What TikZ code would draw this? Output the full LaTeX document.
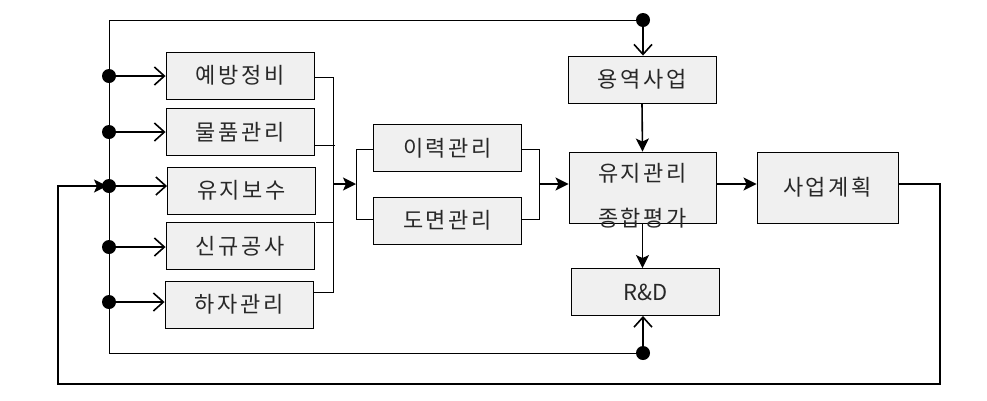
\documentclass[tikz,border=0pt]{standalone}
\usepackage{fontspec}
\newfontfamily\krfont[LetterSpace=12]{Noto Sans CJK KR}
\newfontfamily\krplain{Noto Sans CJK KR}
\usetikzlibrary{arrows.meta,calc}
\definecolor{boxgray}{RGB}{240,240,240}
\definecolor{txtgray}{RGB}{40,40,40}

\begin{document}
\begin{tikzpicture}[x=1pt, y=-1pt,
  box/.style={draw, line width=0.9pt, fill=boxgray, minimum width=148pt, minimum height=47pt,
    inner sep=0pt, text=txtgray, font={\krfont\fontsize{22pt}{26pt}\selectfont}},
  dot/.style={circle, fill, inner sep=0pt, minimum size=14pt},
  bus/.style={line width=0.9pt},
  feed/.style={-{Straight Barb[length=10pt,width=18pt]}, line width=1.6pt},
  flow/.style={-{Stealth[length=13pt,width=13pt,inset=3pt]}, line width=1.6pt},
  ret/.style={-{Stealth[length=13pt,width=13pt,inset=3pt]}, line width=1.4pt}]
  \useasboundingbox (0,0) rectangle (987,400);

  % 왼쪽 작업 상자
  \node[box] (yebang) at (240,75.5) {예방정비};
  \node[box] (mulpum) at (240,132) {물품관리};
  \node[box] (yujibosu) at (241.5,190.5) {유지보수};
  \node[box] (singyu) at (240,246) {신규공사};
  \node[box] (haja) at (239,304.5) {하자관리};

  % 가운데 상자
  \node[box] (iryeok) at (447.5,148) {이력관리};
  \node[box] (domyeon) at (447.5,220.5) {도면관리};

  % 오른쪽 상자
  \node[box] (yongyeok) at (642,79.5) {용역사업};
  \node[box, minimum width=147pt, minimum height=71pt] (jonghap) at (642.5,187.5) {};
  \node[font={\krfont\fontsize{22pt}{26pt}\selectfont}, text=txtgray, align=center, inner sep=0pt]
    (jonghaptxt) at (642.5,195.5) {유지관리\\[19pt]종합평가};
  \node[box, font={\krplain\fontsize{22pt}{26pt}\selectfont}] (rnd) at (645.5,292) {R\&D};
  \node[box, minimum width=141pt, minimum height=71pt] (saeop) at (827.5,187.5) {사업계획};

  % 분기점
  \node[dot] (d1) at (109,76) {};
  \node[dot] (d2) at (109,132) {};
  \node[dot] (d3) at (109,186) {};
  \node[dot] (d4) at (109,247) {};
  \node[dot] (d5) at (109,302) {};
  \node[dot] (dt) at (643,20) {};
  \node[dot] (db) at (643,353) {};

  \coordinate (lt) at (109,20);
  \coordinate (lb) at (109,353);
  \coordinate (ja) at (333,77);
  \coordinate (jb) at (333,292);
  \coordinate (jm) at (333,184);
  \coordinate (il1) at (356,149);
  \coordinate (il2) at (356,219);
  \coordinate (im) at (356,184);
  \coordinate (ir1) at (539,149);
  \coordinate (ir2) at (539,219);
  \coordinate (rm) at (539,184);
  \coordinate (lr) at (940,384);
  \coordinate (ll) at (58,384);

  % 공통 버스
  \draw[bus] (dt.center) -- (lt) -- (lb) -- (db.center);
  \foreach \d/\b in {d1/yebang, d2/mulpum, d3/yujibosu, d4/singyu, d5/haja}
    \draw[feed] (\d.center) -- (\b.west |- \d);
  \draw[feed] (dt.center) -- (dt |- yongyeok.north);
  \draw[feed] (db.center) -- (db |- rnd.south);

  % 작업 -> 이력/도면
  \draw[bus] (yebang.east |- ja) -- (ja) -- (jb) -- (haja.east |- jb);
  \draw[bus] ($(mulpum.east)+(0,13)$) -- ++(21,0);
  \draw[bus] (yujibosu.east |- singyu.north) -- (ja |- singyu.north);
  \draw[flow] (jm) -- (im);
  \draw[bus] (iryeok.west |- il1) -- (il1) -- (il2) -- (domyeon.west |- il2);
  \draw[bus] (iryeok.east |- ir1) -- (ir1) -- (ir2) -- (domyeon.east |- ir2);
  \draw[flow] (rm) -- (jonghap.west |- rm);

  % 평가 및 계획
  \draw[flow] (yongyeok.south) -- (jonghap.north);
  \draw[flow] (jonghap.south) -- (jonghap.south |- rnd.north);
  \draw[flow] (jonghap.east |- rm) -- (saeop.west |- rm);

  % 피드백 루프
  \draw[ret, shorten >=2pt] (saeop.east |- rm) -| (lr) -- (ll) |- (d3.center);
\end{tikzpicture}
\end{document}
